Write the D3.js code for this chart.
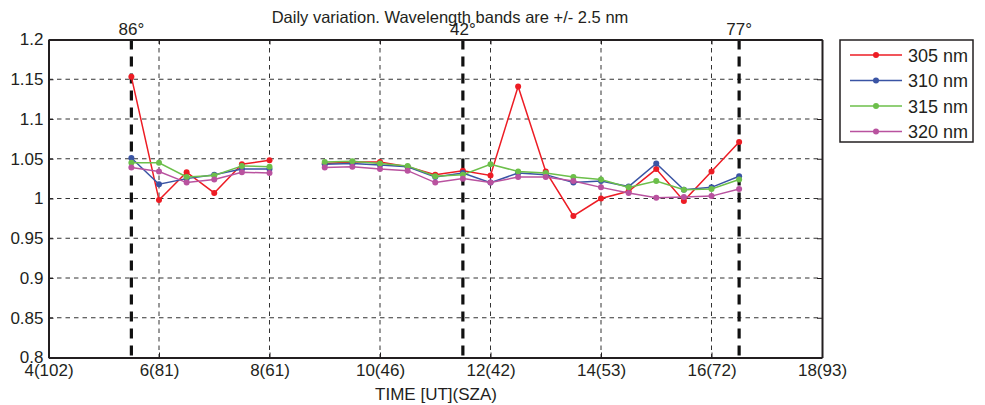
<!DOCTYPE html>
<html>
<head>
<meta charset="utf-8">
<script src="https://cdn.jsdelivr.net/npm/d3@7"></script>
<style>
  body { margin: 0; background: #fff; }
  svg { font-family: "Liberation Sans", Arial, sans-serif; }
</style>
</head>
<body>
<svg id="chart" width="985" height="405"></svg>
<script>
// time of each measurement [UT hours]
const times = [5.5, 6, 6.5, 7, 7.5, 8, 9, 9.5, 10, 10.5, 11, 11.5, 12, 12.5, 13, 13.5, 14, 14.5, 15, 15.5, 16, 16.5];
const s305 = [1.153, 0.998, 1.033, 1.007, 1.043, 1.048, 1.044, 1.046, 1.046, 1.040, 1.030, 1.035, 1.029, 1.141, 1.034, 0.978, 1.000, 1.009, 1.037, 0.997, 1.034, 1.071];
const s310 = [1.051, 1.018, 1.025, 1.030, 1.037, 1.037, 1.043, 1.044, 1.042, 1.040, 1.027, 1.032, 1.020, 1.032, 1.030, 1.020, 1.022, 1.015, 1.044, 1.011, 1.014, 1.028];
const s315 = [1.045, 1.045, 1.027, 1.029, 1.041, 1.040, 1.046, 1.047, 1.044, 1.041, 1.028, 1.030, 1.043, 1.034, 1.032, 1.027, 1.024, 1.014, 1.022, 1.011, 1.012, 1.024];
const s320 = [1.039, 1.034, 1.020, 1.024, 1.033, 1.032, 1.039, 1.040, 1.037, 1.035, 1.020, 1.025, 1.020, 1.027, 1.027, 1.022, 1.014, 1.007, 1.001, 1.002, 1.003, 1.012];
const seriesNames = ["305 nm", "310 nm", "315 nm", "320 nm"];
const seriesColors = ["#ed1c24", "#3a54a4", "#6cbf4a", "#b9529f"];

const xTicks = [4, 6, 8, 10, 12, 14, 16, 18];
const xTickLabels = ["4(102)", "6(81)", "8(61)", "10(46)", "12(42)", "14(53)", "16(72)", "18(93)"];
const yTicks = [0.8, 0.85, 0.9, 0.95, 1, 1.05, 1.1, 1.15, 1.2];
const yTickLabels = ["0.8", "0.85", "0.9", "0.95", "1", "1.05", "1.1", "1.15", "1.2"];

// solar zenith angle markers
const szaTimes = [5.5, 11.5, 16.5];
const szaLabels = ["86°", "42°", "77°"];

const svg = d3.select("#chart");
const pLeft = 48.5, pRight = 822, pTop = 39.5, pBottom = 357.5;

const x = d3.scaleLinear().domain([4, 18]).range([pLeft, pRight]);
const y = d3.scaleLinear().domain([0.8, 1.2]).range([pBottom, pTop]);

// grid
const grid = svg.append("g").attr("stroke", "#333").attr("stroke-width", 1).attr("stroke-dasharray", "4.5,4");
grid.selectAll(".gx").data(xTicks.slice(1, -1)).enter().append("line")
  .attr("x1", d => x(d)).attr("x2", d => x(d)).attr("y1", pTop).attr("y2", pBottom);
grid.selectAll(".gy").data(yTicks.slice(1, -1)).enter().append("line")
  .attr("x1", pLeft).attr("x2", pRight).attr("y1", d => y(d)).attr("y2", d => y(d));

// thick SZA lines
svg.append("g").selectAll("line").data(szaTimes).enter().append("line")
  .attr("x1", d => x(d)).attr("x2", d => x(d)).attr("y1", pTop).attr("y2", pBottom)
  .attr("stroke", "#111").attr("stroke-width", 3.2).attr("stroke-dasharray", "10,7");

// axes
const xAxis = d3.axisBottom(x).tickValues(xTicks).tickFormat((d, i) => xTickLabels[i]).tickSizeInner(-5).tickSizeOuter(0).tickPadding(6);
const yAxis = d3.axisLeft(y).tickValues(yTicks).tickFormat((d, i) => yTickLabels[i]).tickSizeInner(-5).tickSizeOuter(0).tickPadding(5);
svg.append("g").attr("transform", `translate(0,${pBottom})`).call(xAxis);
svg.append("g").attr("transform", `translate(${pLeft},0)`).call(yAxis);
svg.append("g").attr("transform", `translate(0,${pTop})`).call(d3.axisTop(x).tickValues(xTicks).tickFormat("").tickSizeInner(-5).tickSizeOuter(0));
svg.append("g").attr("transform", `translate(${pRight},0)`).call(d3.axisRight(y).tickValues(yTicks).tickFormat("").tickSizeInner(-5).tickSizeOuter(0));
svg.selectAll(".domain").attr("stroke", "#231f20").attr("stroke-width", 2);
svg.selectAll(".tick line").attr("stroke", "#231f20").attr("stroke-width", 1);
svg.selectAll(".tick text").attr("font-size", 17).attr("fill", "#231f20").attr("font-family", "Liberation Sans, Arial, sans-serif");

// series
const allSeries = [s305, s310, s315, s320];
const line = d3.line().x(d => x(d.t)).y(d => y(d.v));
allSeries.forEach((vals, k) => {
  const pts = times.map((t, i) => ({ t: t, v: vals[i] }));
  // break between 8 and 9 UT
  const segs = [pts.filter(p => p.t <= 8), pts.filter(p => p.t >= 9)];
  const g = svg.append("g");
  segs.forEach(seg => {
    g.append("path").datum(seg).attr("d", line)
      .attr("fill", "none").attr("stroke", seriesColors[k]).attr("stroke-width", 1.5);
  });
  g.selectAll("circle").data(pts).enter().append("circle")
    .attr("cx", d => x(d.t)).attr("cy", d => y(d.v)).attr("r", 3)
    .attr("fill", seriesColors[k]);
});

// SZA labels
svg.append("g").selectAll("text").data(szaTimes).enter().append("text")
  .attr("x", d => x(d)).attr("y", 35).attr("text-anchor", "middle")
  .attr("font-size", 17).attr("fill", "#231f20")
  .text((d, i) => szaLabels[i]);

// title
svg.append("text").attr("x", 450).attr("y", 23).attr("text-anchor", "middle")
  .attr("font-size", 16.5).attr("fill", "#231f20")
  .text("Daily variation. Wavelength bands are +/- 2.5 nm");

// x label
svg.append("text").attr("x", 436).attr("y", 400).attr("text-anchor", "middle")
  .attr("font-size", 17).attr("fill", "#231f20")
  .text("TIME [UT](SZA)");

// legend
const lg = svg.append("g").attr("transform", "translate(840,40)");
lg.append("rect").attr("width", 133).attr("height", 102)
  .attr("fill", "#fff").attr("stroke", "#231f20").attr("stroke-width", 1.5);
seriesNames.forEach((name, i) => {
  const yy = 15 + i * 25.5;
  lg.append("line").attr("x1", 10).attr("x2", 62).attr("y1", yy).attr("y2", yy)
    .attr("stroke", seriesColors[i]).attr("stroke-width", 1.5);
  lg.append("circle").attr("cx", 36).attr("cy", yy).attr("r", 3).attr("fill", seriesColors[i]);
  lg.append("text").attr("x", 68).attr("y", yy + 6.5).attr("font-size", 18).attr("fill", "#231f20").text(name);
});
</script>
</body>
</html>
